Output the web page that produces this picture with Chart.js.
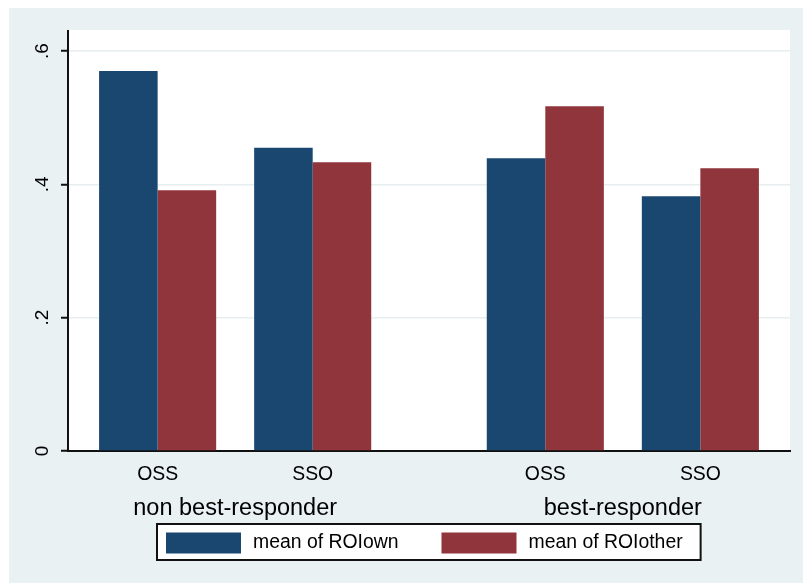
<!DOCTYPE html>
<html>
<head>
<meta charset="utf-8">
<title>ROI by responder type</title>
<script src="https://cdn.jsdelivr.net/npm/chart.js@4.4.0/dist/chart.umd.min.js"></script>
<style>
  html, body { margin: 0; padding: 0; background: #fff; }
  canvas { display: block; }
</style>
</head>
<body>
<canvas id="roiChart" width="803" height="583"></canvas>
<script>
// categories (outer group, inner treatment)
var groups = ['non best-responder', 'best-responder'];
var treatments = ['OSS', 'SSO'];

// bar heights, in bar order
var roiOwn = [0.570, 0.455, 0.439, 0.382];
var roiOther = [0.391, 0.433, 0.517, 0.424];
var seriesNames = ['mean of ROIown', 'mean of ROIother'];

// y axis ticks
var yTicks = [0, 0.2, 0.4, 0.6];
var yTickLabels = ['0', '.2', '.4', '.6'];

// stata puts a wider gap between the over() groups
var groupStep = 2.5;
var slotX = [];
var slotLabels = [];
var groupMid = [];
groups.forEach(function(g, gi) {
  treatments.forEach(function(t, ti) {
    slotX.push(gi * groupStep + ti);
    slotLabels.push(t);
  });
  groupMid.push(gi * groupStep + (treatments.length - 1) / 2);
});

function toPoints(vals) {
  return vals.map(function(v, i) { return { x: slotX[i], y: v }; });
}

Chart.defaults.font.family = '"Liberation Sans", Arial, sans-serif';
Chart.defaults.color = '#000';

// grey graph region + white plot region
var backdrop = {
  id: 'backdrop',
  beforeDraw: function(chart) {
    var ctx = chart.ctx, a = chart.chartArea;
    ctx.save();
    ctx.fillStyle = '#ffffff';
    ctx.fillRect(0, 0, chart.width, chart.height);
    ctx.fillStyle = '#e9f1f2';
    ctx.fillRect(9, 8, chart.width - 9, chart.height - 8);
    ctx.fillStyle = '#ffffff';
    ctx.fillRect(a.left, a.top - 1, a.right - a.left, a.bottom - a.top + 1);
    ctx.restore();
  }
};

// framed legend like stata's
var boxLegend = {
  id: 'boxLegend',
  afterDraw: function(chart) {
    var ctx = chart.ctx, a = chart.chartArea;
    ctx.save();
    ctx.font = '19.4px "Liberation Sans", Arial, sans-serif';
    var items = chart.data.datasets.map(function(ds) {
      return { text: ds.label, color: ds.backgroundColor, w: ctx.measureText(ds.label).width };
    });
    var swW = 75, swH = 21, txtGap = 12, itemGap = 43, padL = 9, padR = 18;
    var total = padL + padR;
    items.forEach(function(it, i) { total += swW + txtGap + it.w + (i ? itemGap : 0); });
    var left = Math.round((a.left + a.right) / 2 - total / 2);
    var top = a.bottom + 73, h = 36;
    ctx.fillStyle = '#ffffff';
    ctx.fillRect(left, top, total, h);
    ctx.lineWidth = 2;
    ctx.strokeStyle = '#111';
    ctx.strokeRect(left, top, total, h);
    var x = left + padL;
    ctx.textBaseline = 'middle';
    items.forEach(function(it) {
      ctx.fillStyle = it.color;
      ctx.fillRect(x, top + 8.5, swW, swH);
      x += swW + txtGap;
      ctx.fillStyle = '#000';
      ctx.fillText(it.text, x, top + h / 2 + 1);
      x += it.w + itemGap;
    });
    ctx.restore();
  }
};

var ctx = document.getElementById('roiChart');
var myChart = new Chart(ctx, {
  type: 'bar',
  data: {
    datasets: [{
      label: seriesNames[0],
      data: toPoints(roiOwn),
      backgroundColor: '#1a476f'
    }, {
      label: seriesNames[1],
      data: toPoints(roiOther),
      backgroundColor: '#90353b'
    }]
  },
  options: {
    responsive: false,
    animation: false,
    devicePixelRatio: 1,
    events: [],
    categoryPercentage: 0.755,
    barPercentage: 1.0,
    layout: { padding: { top: 31, right: 13, bottom: 60, left: 0 } },
    plugins: {
      legend: { display: false },
      tooltip: { enabled: false }
    },
    scales: {
      x: {
        type: 'linear',
        offset: false,
        min: -0.578,
        max: 4.078,
        afterBuildTicks: function(s) { s.ticks = slotX.map(function(v) { return { value: v }; }); },
        afterFit: function(s) { s.height = 35; },
        grid: { display: false, offset: false },
        border: { color: '#111', width: 2 },
        ticks: {
          padding: 4, autoSkip: false, maxRotation: 0,
          font: { size: 19.4 },
          callback: function(v, i) { return slotLabels[i]; }
        }
      },
      x2: {
        type: 'linear',
        position: 'bottom',
        offset: false,
        weight: 1,
        min: -0.578,
        max: 4.078,
        afterBuildTicks: function(s) { s.ticks = groupMid.map(function(v) { return { value: v }; }); },
        afterFit: function(s) { s.height = 37; },
        grid: { display: false, offset: false },
        border: { display: false },
        ticks: {
          padding: 0, autoSkip: false, maxRotation: 0,
          font: { size: 23.5 },
          callback: function(v, i) { return groups[i]; }
        }
      },
      y: {
        min: 0,
        max: 0.63,
        afterBuildTicks: function(s) { s.ticks = yTicks.map(function(v) { return { value: v }; }); },
        afterFit: function(s) { s.width = 68; },
        border: { color: '#111', width: 2 },
        grid: { color: '#e6eef0', lineWidth: 1.5, tickColor: '#111', tickWidth: 2, tickLength: 7 },
        ticks: {
          minRotation: 90, maxRotation: 90, crossAlign: 'center', padding: 10,
          font: { size: 19 },
          callback: function(v, i) { return yTickLabels[i]; }
        }
      }
    }
  },
  plugins: [backdrop, boxLegend]
});
</script>
</body>
</html>
